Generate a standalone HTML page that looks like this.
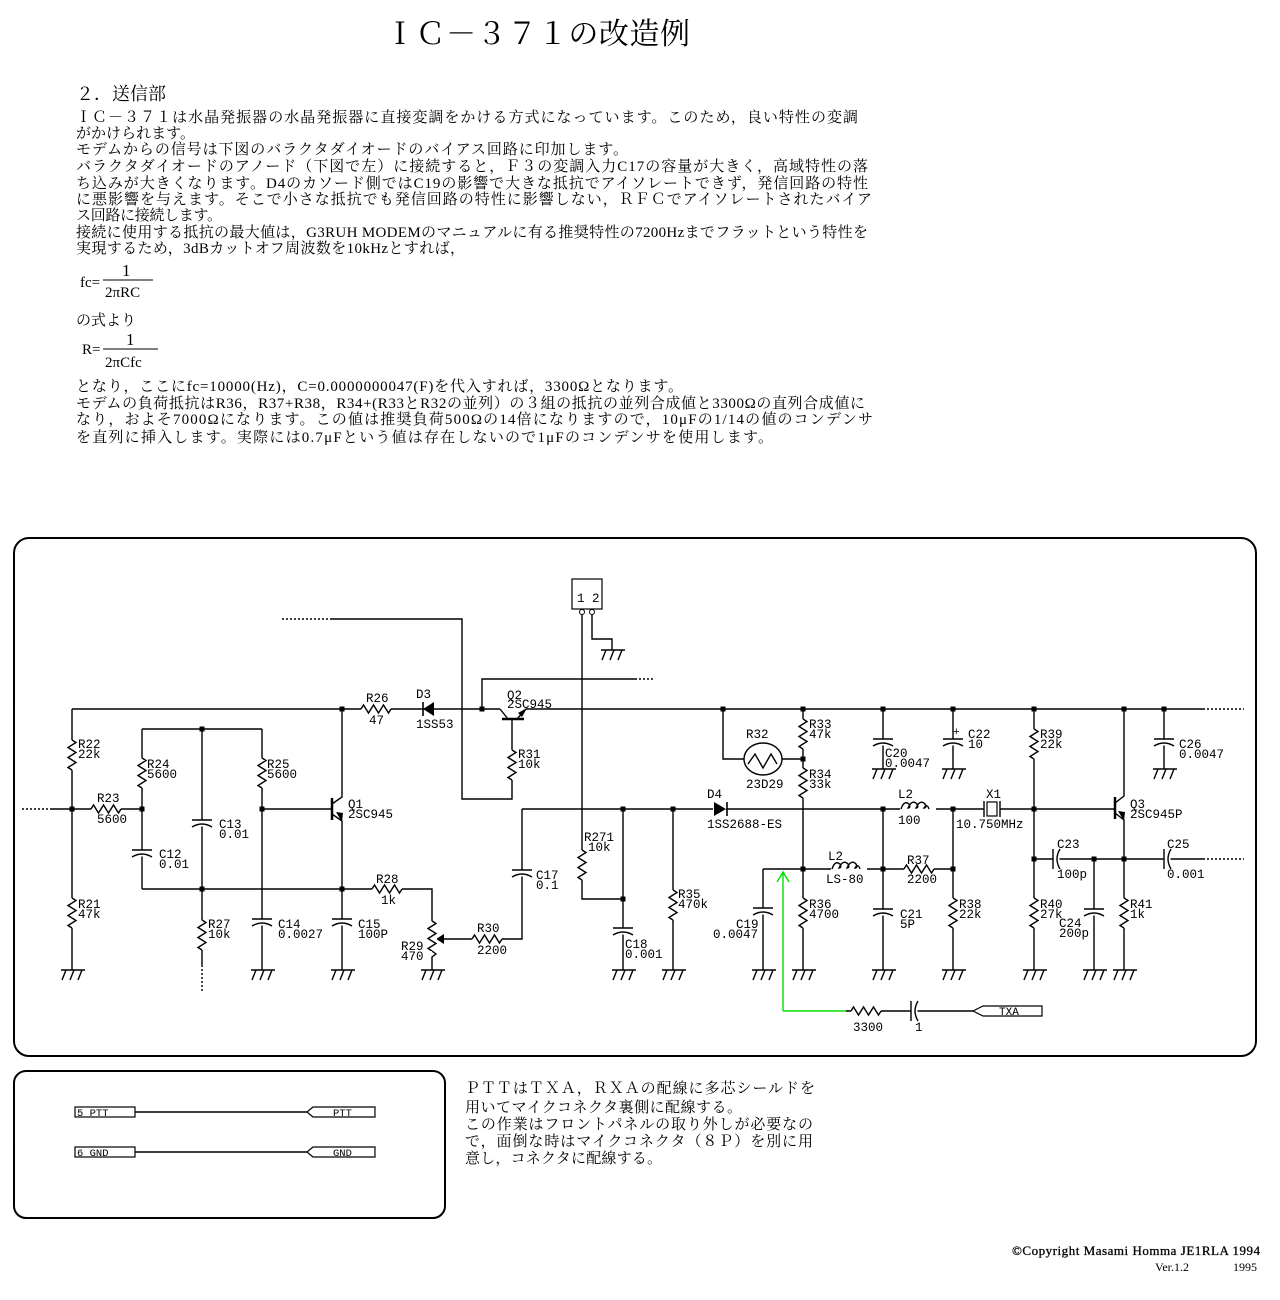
<!DOCTYPE html>
<html><head><meta charset="utf-8"><style>
html,body{margin:0;padding:0;background:#fff;}
svg{display:block;}
.t{font-family:"Liberation Serif","Noto Serif CJK SC",serif;font-size:15px;fill:#000;}
.m{font-family:"Liberation Mono",monospace;font-size:12.5px;fill:#000;}
.w{fill:none;stroke:#000;stroke-width:1.4;}
.d{fill:none;stroke:#000;stroke-width:1.4;stroke-dasharray:2,2;}
</style></head><body>
<svg width="1280" height="1300" viewBox="0 0 1280 1300" xmlns="http://www.w3.org/2000/svg">
<defs>
<g id="rv"><rect x="-5" y="0" width="10" height="30" fill="#fff"/><path class="w" d="M0,0 l4,2.5 l-8,5 l8,5 l-8,5 l8,5 l-8,5 l4,2.5"/></g>
<g id="rh"><rect x="0" y="-5" width="30" height="10" fill="#fff"/><path class="w" d="M0,0 l2.5,-4 l5,8 l5,-8 l5,8 l5,-8 l5,8 l2.5,-4"/></g>
<g id="cv"><rect x="-11" y="0.5" width="22" height="6" fill="#fff"/><path class="w" d="M-10,0 h20 M-10,7 Q0,1 10,7"/></g>
<g id="ch"><rect x="0.5" y="-11" width="6" height="22" fill="#fff"/><path class="w" d="M0,-10 v20 M7,-10 Q1,0 7,10"/></g>
<g id="g"><path class="w" d="M-11,0 h24 M-6,0 l-4,10 M2,0 l-4,10 M10,0 l-4,10"/></g>
<rect id="n" x="-2.5" y="-2.5" width="5" height="5" fill="#000"/>
</defs>

<text x="385" y="44" class="t" style="font-size:30px" textLength="305" lengthAdjust="spacing">ＩＣ－３７１の改造例</text>
<text x="76" y="100" class="t" style="font-size:18px">２．送信部</text>
<text x="76" y="122" class="t" textLength="782" lengthAdjust="spacing">ＩＣ－３７１は水晶発振器の水晶発振器に直接変調をかける方式になっています。このため，良い特性の変調</text>
<text x="76" y="138" class="t" textLength="119" lengthAdjust="spacing">がかけられます。</text>
<text x="76" y="154" class="t" textLength="552" lengthAdjust="spacing">モデムからの信号は下図のバラクタダイオードのバイアス回路に印加します。</text>
<text x="76" y="171" class="t" textLength="792" lengthAdjust="spacing">バラクタダイオードのアノード（下図で左）に接続すると，Ｆ３の変調入力C17の容量が大きく，高域特性の落</text>
<text x="76" y="188" class="t" textLength="792" lengthAdjust="spacing">ち込みが大きくなります。D4のカソード側ではC19の影響で大きな抵抗でアイソレートできず，発信回路の特性</text>
<text x="76" y="204" class="t" textLength="796" lengthAdjust="spacing">に悪影響を与えます。そこで小さな抵抗でも発信回路の特性に影響しない，ＲＦＣでアイソレートされたバイア</text>
<text x="76" y="220" class="t" textLength="146" lengthAdjust="spacing">ス回路に接続します。</text>
<text x="76" y="237" class="t" textLength="792" lengthAdjust="spacing">接続に使用する抵抗の最大値は，G3RUH MODEMのマニュアルに有る推奨特性の7200Hzまでフラットという特性を</text>
<text x="76" y="253" class="t" textLength="389" lengthAdjust="spacing">実現するため，3dBカットオフ周波数を10kHzとすれば，</text>

<text x="80" y="287" class="t">fc=</text>
<text x="122" y="276" class="t" style="font-size:17px">1</text>
<line x1="103" y1="280" x2="153" y2="280" stroke="#000" stroke-width="1"/>
<text x="105" y="297" class="t">2πRC</text>
<text x="76" y="325" class="t">の式より</text>
<text x="82" y="354" class="t">R=</text>
<text x="126" y="345" class="t" style="font-size:17px">1</text>
<line x1="103" y1="349" x2="158" y2="349" stroke="#000" stroke-width="1"/>
<text x="105" y="367" class="t">2πCfc</text>

<text x="76" y="391" class="t" textLength="607" lengthAdjust="spacing">となり，ここにfc=10000(Hz)，C=0.0000000047(F)を代入すれば，3300Ωとなります。</text>
<text x="76" y="408" class="t" textLength="789" lengthAdjust="spacing">モデムの負荷抵抗はR36，R37+R38，R34+(R33とR32の並列）の３組の抵抗の並列合成値と3300Ωの直列合成値に</text>
<text x="76" y="424" class="t" textLength="797" lengthAdjust="spacing">なり，およそ7000Ωになります。この値は推奨負荷500Ωの14倍になりますので，10μFの1/14の値のコンデンサ</text>
<text x="76" y="442" class="t" textLength="697" lengthAdjust="spacing">を直列に挿入します。実際には0.7μFという値は存在しないので1μFのコンデンサを使用します。</text>

<rect x="14" y="538" width="1242" height="518" rx="15" fill="none" stroke="#000" stroke-width="2"/>
<rect x="14" y="1071" width="431" height="147" rx="12" fill="none" stroke="#000" stroke-width="2"/>

<path class="w" d="M72,709 H500 M526,709 H1203"/>
<path class="d" d="M1203,709 H1244"/>
<path class="w" d="M72,709 V970"/>
<path class="d" d="M22,809 H50"/>
<path class="w" d="M50,809 H142 M262,809 H332"/>
<path class="w" d="M142,729 H262 M142,729 V889 M262,729 V970 M202,729 V965"/>
<path class="d" d="M202,965 V992"/>
<path class="w" d="M142,889 H432 V970"/>
<path class="w" d="M342,709 V797 L332,804 M332,814 L342,821 V970"/>
<path d="M332,798 V820" stroke="#000" stroke-width="2.5"/>
<polygon points="342,822 336,812 343,813" fill="#000"/>
<path class="w" d="M442,939 H522 V809"/>
<polygon points="436,939 444,934 444,944" fill="#000"/>
<use href="#rv" x="72" y="740"/>
<use href="#rv" x="72" y="898"/>
<use href="#rh" x="91" y="809"/>
<use href="#rv" x="142" y="758"/>
<use href="#rv" x="262" y="758"/>
<use href="#cv" x="142" y="850"/>
<use href="#cv" x="202" y="820"/>
<use href="#rv" x="202" y="920"/>
<use href="#cv" x="262" y="919"/>
<use href="#cv" x="342" y="919"/>
<use href="#rh" x="372" y="889"/>
<use href="#rv" x="432" y="921"/>
<rect x="427" y="951" width="10" height="12" fill="#fff"/>
<path class="w" d="M432,951 l4,3 l-4,3 l0,6"/>
<use href="#rh" x="472" y="939"/>
<use href="#cv" x="522" y="870"/>
<use href="#rh" x="361" y="709"/>
<use href="#g" x="72" y="970"/><use href="#g" x="262" y="970"/><use href="#g" x="342" y="970"/><use href="#g" x="432" y="970"/>

<polygon points="423,709 434,702 434,716" fill="#000"/>
<path d="M423,702 V716" stroke="#000" stroke-width="1.6"/>
<path d="M502,719 H524" stroke="#000" stroke-width="2.5"/>
<path class="w" d="M508,719 L500,709 M517,719 L526,709"/>
<polygon points="527,708 518,713 522,717" fill="#000"/>
<path class="w" d="M512,719 V799 H462 V619 H330"/>
<path class="d" d="M282,619 H330"/>
<use href="#rv" x="512" y="750"/>
<path class="w" d="M482,709 V679 H635"/>
<path class="d" d="M635,679 H653"/>
<rect x="572" y="579" width="30" height="30" fill="none" stroke="#000" stroke-width="1.2"/>
<text x="577" y="602" class="m">1 2</text>
<circle cx="582" cy="612" r="2.5" fill="#fff" stroke="#000"/>
<circle cx="592" cy="612" r="2.5" fill="#fff" stroke="#000"/>
<path class="w" d="M582,615 V899 H623 M592,615 V639 H612 V650"/>
<use href="#g" x="612" y="650"/>

<path class="w" d="M522,809 H713 M726,809 H984 M1000,809 H1115"/>
<polygon points="726,809 714,802 714,816" fill="#000"/>
<path d="M727,802 V816" stroke="#000" stroke-width="1.6"/>
<rect x="987" y="802" width="10" height="14" fill="#fff" stroke="#000" stroke-width="1.2"/>
<path class="w" d="M984,801 V817 M1000,801 V817"/>
<use href="#rv" x="582" y="850"/>
<path class="w" d="M623,809 V970 M673,809 V970"/>
<use href="#cv" x="623" y="928"/>
<use href="#rv" x="673" y="890"/>
<path class="w" d="M723,709 V759 H744 M782,759 H803"/>
<ellipse cx="763" cy="759" rx="19" ry="16" fill="#fff" stroke="#000" stroke-width="1.4"/>
<path class="w" d="M748,764 l7,-10 l8,14 l8,-14 l6,10"/>
<path class="w" d="M803,709 V970"/>
<use href="#rv" x="803" y="719"/>
<use href="#rv" x="803" y="768"/>
<use href="#rv" x="803" y="898"/>
<path class="w" d="M883,709 V769 M953,709 V769 M1164,709 V769"/>
<use href="#cv" x="883" y="739"/><use href="#cv" x="953" y="739"/><use href="#cv" x="1164" y="739"/>
<text x="953" y="735" class="m" style="font-size:11px">+</text>
<path class="w" d="M883,809 V970 M953,809 V970 M763,869 H953 M763,869 V970"/>
<rect x="900" y="799" width="36" height="12" fill="#fff"/>
<path class="w" d="M901,809 q3,-9 8,-5 q2,4 -1,4 q4,-9 9,-4 q2,4 -1,4 q4,-9 9,-4 q2,4 -1,4 q3,-5 5,1"/>
<rect x="831" y="859" width="36" height="12" fill="#fff"/>
<path class="w" d="M832,869 q3,-9 8,-5 q2,4 -1,4 q4,-9 9,-4 q2,4 -1,4 q4,-9 9,-4 q2,4 -1,4 q3,-5 5,1"/>
<use href="#rh" x="904" y="869"/>
<use href="#cv" x="883" y="909"/>
<use href="#rv" x="953" y="898"/>
<use href="#cv" x="763" y="908"/>
<path d="M783,1011 V872 M777,882 L783,872 L789,882 M783,1011 H846" fill="none" stroke="#00e000" stroke-width="1.4"/>
<path class="w" d="M846,1011 H973"/>
<use href="#rh" x="851" y="1011"/>
<use href="#ch" x="911" y="1011"/>
<polygon points="973,1011 983,1006 1042,1006 1042,1016 983,1016" fill="#fff" stroke="#000" stroke-width="1.2"/>
<text x="999" y="1015" class="m" style="font-size:11px">TXA</text>
<path class="w" d="M1034,709 V970 M1034,859 H1203 M1094,859 V970"/>
<path class="d" d="M1203,859 H1244"/>
<use href="#rv" x="1034" y="729"/>
<use href="#rv" x="1034" y="898"/>
<use href="#ch" x="1053" y="859"/>
<use href="#ch" x="1164" y="859"/>
<use href="#cv" x="1094" y="909"/>
<path class="w" d="M1115,803 L1124,796 V709 M1115,813 L1124,820 V970"/>
<path d="M1115,797 V819" stroke="#000" stroke-width="2.5"/>
<polygon points="1124,821 1118,811 1125,812" fill="#000"/>
<use href="#rv" x="1124" y="898"/>
<g>
<use href="#g" x="623" y="970"/><use href="#g" x="673" y="970"/><use href="#g" x="763" y="970"/><use href="#g" x="803" y="970"/><use href="#g" x="883" y="970"/><use href="#g" x="953" y="970"/><use href="#g" x="1034" y="970"/><use href="#g" x="1094" y="970"/><use href="#g" x="1124" y="970"/>
<use href="#g" x="883" y="769"/><use href="#g" x="953" y="769"/><use href="#g" x="1164" y="769"/>
</g>
<use href="#n" x="72" y="809"/><use href="#n" x="142" y="809"/><use href="#n" x="262" y="809"/><use href="#n" x="202" y="729"/><use href="#n" x="202" y="889"/><use href="#n" x="342" y="889"/><use href="#n" x="342" y="709"/><use href="#n" x="482" y="709"/>
<use href="#n" x="723" y="709"/><use href="#n" x="803" y="709"/><use href="#n" x="883" y="709"/><use href="#n" x="953" y="709"/><use href="#n" x="1034" y="709"/><use href="#n" x="1124" y="709"/><use href="#n" x="1164" y="709"/>
<use href="#n" x="623" y="809"/><use href="#n" x="673" y="809"/><use href="#n" x="883" y="809"/><use href="#n" x="953" y="809"/><use href="#n" x="1034" y="809"/>
<use href="#n" x="803" y="759"/><use href="#n" x="803" y="869"/><use href="#n" x="883" y="869"/><use href="#n" x="953" y="869"/><use href="#n" x="623" y="899"/>
<use href="#n" x="1034" y="859"/><use href="#n" x="1094" y="859"/><use href="#n" x="1124" y="859"/>

<g class="m">
<text x="78" y="748">R22</text><text x="78" y="758">22k</text>
<text x="97" y="802">R23</text><text x="97" y="823">5600</text>
<text x="147" y="768">R24</text><text x="147" y="778">5600</text>
<text x="267" y="768">R25</text><text x="267" y="778">5600</text>
<text x="219" y="828">C13</text><text x="219" y="838">0.01</text>
<text x="159" y="858">C12</text><text x="159" y="868">0.01</text>
<text x="78" y="908">R21</text><text x="78" y="918">47k</text>
<text x="208" y="928">R27</text><text x="208" y="938">10k</text>
<text x="278" y="928">C14</text><text x="278" y="938">0.0027</text>
<text x="358" y="928">C15</text><text x="358" y="938">100P</text>
<text x="348" y="808">Q1</text><text x="348" y="818">2SC945</text>
<text x="376" y="883">R28</text><text x="381" y="904">1k</text>
<text x="401" y="950">R29</text><text x="401" y="960">470</text>
<text x="477" y="932">R30</text><text x="477" y="954">2200</text>
<text x="536" y="879">C17</text><text x="536" y="889">0.1</text>
<text x="366" y="702">R26</text><text x="369" y="724">47</text>
<text x="416" y="698">D3</text><text x="416" y="728">1SS53</text>
<text x="507" y="699">Q2</text><text x="507" y="708">2SC945</text>
<text x="518" y="758">R31</text><text x="518" y="768">10k</text>
<text x="584" y="841">R271</text><text x="588" y="851">10k</text>
<text x="625" y="948">C18</text><text x="625" y="958">0.001</text>
<text x="678" y="898">R35</text><text x="678" y="908">470k</text>
<text x="707" y="798">D4</text><text x="707" y="828">1SS2688-ES</text>
<text x="746" y="738">R32</text><text x="746" y="788">23D29</text>
<text x="809" y="728">R33</text><text x="809" y="738">47k</text>
<text x="809" y="778">R34</text><text x="809" y="788">33k</text>
<text x="809" y="908">R36</text><text x="809" y="918">4700</text>
<text x="736" y="928">C19</text><text x="713" y="938">0.0047</text>
<text x="828" y="860">L2</text><text x="826" y="883">LS-80</text>
<text x="898" y="798">L2</text><text x="898" y="824">100</text>
<text x="907" y="864">R37</text><text x="907" y="883">2200</text>
<text x="900" y="918">C21</text><text x="900" y="928">5P</text>
<text x="885" y="757">C20</text><text x="885" y="767">0.0047</text>
<text x="968" y="738">C22</text><text x="968" y="748">10</text>
<text x="986" y="798">X1</text><text x="956" y="828">10.750MHz</text>
<text x="959" y="908">R38</text><text x="959" y="918">22k</text>
<text x="1040" y="738">R39</text><text x="1040" y="748">22k</text>
<text x="1040" y="908">R40</text><text x="1040" y="918">27k</text>
<text x="1057" y="848">C23</text><text x="1057" y="878">100p</text>
<text x="1059" y="927">C24</text><text x="1059" y="937">200p</text>
<text x="1130" y="808">Q3</text><text x="1130" y="818">2SC945P</text>
<text x="1167" y="848">C25</text><text x="1167" y="878">0.001</text>
<text x="1130" y="908">R41</text><text x="1130" y="918">1k</text>
<text x="1179" y="748">C26</text><text x="1179" y="758">0.0047</text>
<text x="853" y="1031">3300</text><text x="915" y="1031">1</text>
</g>

<rect x="75" y="1107" width="60" height="10" fill="none" stroke="#000" stroke-width="1.2"/>
<text x="77" y="1116" class="m" style="font-size:10.5px">5 PTT</text>
<path class="w" d="M135,1112 H307"/>
<polygon points="307,1112 313,1107 375,1107 375,1117 313,1117" fill="#fff" stroke="#000" stroke-width="1.2"/>
<text x="333" y="1116" class="m" style="font-size:10.5px">PTT</text>
<rect x="75" y="1147" width="60" height="10" fill="none" stroke="#000" stroke-width="1.2"/>
<text x="77" y="1156" class="m" style="font-size:10.5px">6 GND</text>
<path class="w" d="M135,1152 H307"/>
<polygon points="307,1152 313,1147 375,1147 375,1157 313,1157" fill="#fff" stroke="#000" stroke-width="1.2"/>
<text x="333" y="1156" class="m" style="font-size:10.5px">GND</text>

<text x="465" y="1093" class="t" textLength="350" lengthAdjust="spacing">ＰＴＴはＴＸＡ，ＲＸＡの配線に多芯シールドを</text>
<text x="465" y="1112" class="t" textLength="277" lengthAdjust="spacing">用いてマイクコネクタ裏側に配線する。</text>
<text x="465" y="1129" class="t" textLength="348" lengthAdjust="spacing">この作業はフロントパネルの取り外しが必要なの</text>
<text x="465" y="1146" class="t" textLength="348" lengthAdjust="spacing">で，面倒な時はマイクコネクタ（８Ｐ）を別に用</text>
<text x="465" y="1163" class="t" textLength="197" lengthAdjust="spacing">意し，コネクタに配線する。</text>

<text x="1012" y="1255" class="t" style="font-size:13px;stroke:#000;stroke-width:0.3" textLength="248" lengthAdjust="spacing">©Copyright Masami Homma JE1RLA  1994</text>
<text x="1155" y="1271" class="t" style="font-size:12px">Ver.1.2</text>
<text x="1233" y="1271" class="t" style="font-size:12px">1995</text>
</svg>
</body></html>
